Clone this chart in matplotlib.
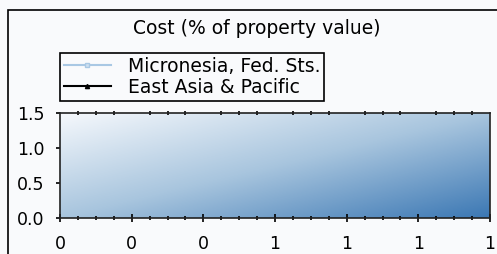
import numpy as np
import matplotlib
matplotlib.use("Agg")
from matplotlib import pyplot as plt
from matplotlib.colors import LinearSegmentedColormap
from matplotlib.ticker import MultipleLocator

# chart data (no observations shown in the reference, just the legend)
title = "Cost (% of property value)"
series_names = ["Micronesia, Fed. Sts.", "East Asia & Pacific"]
micronesia_x, micronesia_y = [], []
eap_x, eap_y = [], []
xticks = [0, 1/6, 2/6, 3/6, 4/6, 5/6, 1]
xtick_labels = ["0", "0", "0", "1", "1", "1", "1"]
yticks = [0.0, 0.5, 1.0, 1.5]
ytick_labels = ["0.0", "0.5", "1.0", "1.5"]

plt.rcParams['font.family'] = ['DejaVu Sans']
plt.rcParams['font.size'] = 12.5

fig = plt.figure(figsize=(4.97, 2.54), dpi=100, facecolor="#f9fafc")
# outer frame
fig.patches.append(plt.Rectangle((8/497, -0.1), 1.0, 1 - 10/254 + 0.1,
                                 transform=fig.transFigure, fill=False,
                                 edgecolor="black", linewidth=1.2))

ax = fig.add_axes([60/497, 1 - 218/254, 430/497, 105/254])
ax.set_facecolor("#f9fafc")

# gradient background: light top-left -> steel blue bottom-right
gx, gy = np.meshgrid(np.linspace(0, 1, 200), np.linspace(0, 1, 100))
grad = (gx + gy) / 2
cmap = LinearSegmentedColormap.from_list("bg", ["#f5f8fc", "#a8c5de", "#3c78b4"])
ax.imshow(grad, extent=[0, 1, 0, 1.5], origin="upper", aspect="auto",
          cmap=cmap, zorder=0, interpolation="bilinear")

ax.plot(micronesia_x, micronesia_y, color="#a9c8e4", marker="s", markersize=3,
        markerfacecolor="#cfe0f0", label=series_names[0])
ax.plot(eap_x, eap_y, color="black", marker="^", markersize=3,
        label=series_names[1])

ax.set_xlim(0, 1)
ax.set_ylim(0, 1.5)
ax.set_xticks(xticks)
ax.set_xticklabels(xtick_labels)
ax.xaxis.set_minor_locator(MultipleLocator(1/24))
ax.set_yticks(yticks)
ax.set_yticklabels(ytick_labels)

ax.tick_params(axis="x", which="major", direction="inout", length=6, width=1.2,
               top=False, pad=9)
ax.tick_params(axis="x", which="minor", direction="inout", length=3, width=1.2,
               top=True)
ax.tick_params(axis="y", which="major", direction="out", length=3, width=1.2,
               pad=8)
for s in ax.spines.values():
    s.set_linewidth(1.2)
    s.set_color("#222222")

fig.text(0.517, 1 - 29/254, title, ha="center", va="center", fontsize=13.5)

leg = fig.legend(loc="upper left", bbox_to_anchor=(60/497, 1 - 53/254),
                 frameon=True, fancybox=False, edgecolor="black",
                 facecolor="#f9fafc", framealpha=1, fontsize=13.5,
                 handlelength=2.5, borderpad=0.2, labelspacing=0.12,
                 handletextpad=0.9, borderaxespad=0)
leg.get_frame().set_linewidth(1.2)

fig.savefig("out.png", dpi=100, facecolor=fig.get_facecolor())
